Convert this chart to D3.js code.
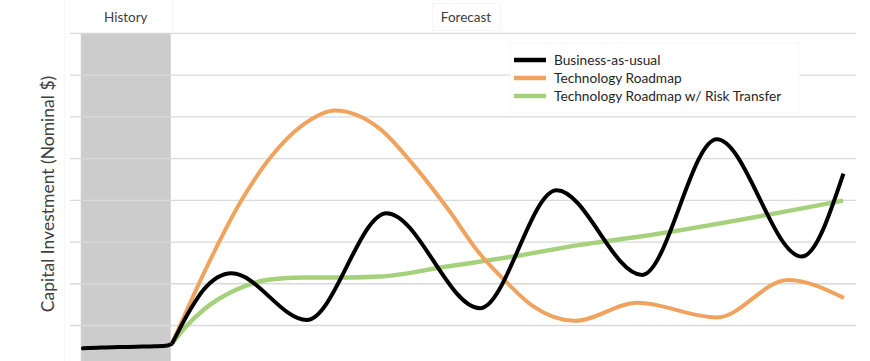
<!DOCTYPE html>
<html>
<head>
<meta charset="utf-8">
<script src="https://cdn.jsdelivr.net/npm/d3@7"></script>
<style>
  html, body { margin: 0; padding: 0; background: #fff; }
  svg { display: block; font-family: Lato, "Open Sans", sans-serif; }
</style>
</head>
<body>
<svg id="chart" width="870" height="361"></svg>
<script>
// Periods are years relative to the start of the forecast (0 = today).
const historyPeriods = [-5.03, -4, -3, -2, -1, -0.25, 0];
const historyValues  = [0.44, 0.46, 0.47, 0.48, 0.49, 0.51, 0.55];

const bauPeriods = [0, 1.02, 1.77, 3.37, 7.61, 12.12, 17.39, 21.72, 26.54, 30.76, 35.56, 37.91];
const bauValues  = [0.55, 1.36, 1.84, 2.24, 1.12, 3.68, 1.40, 4.23, 2.20, 5.45, 2.64, 4.63];

const roadmapPeriods = [0, 1.92, 3.94, 5.53, 7.41, 9.2, 11.74, 13.61, 15.51, 17.39, 18.9, 20.38, 22.75, 26.26, 30.77, 34.78, 37.94];
const roadmapValues  = [0.55, 2.35, 4.00, 5.00, 5.80, 6.14, 5.70, 4.85, 3.82, 2.70, 2.02, 1.45, 1.10, 1.53, 1.18, 2.08, 1.65];

const riskPeriods = [0, 0.83, 1.77, 3.65, 5.53, 7.41, 10.05, 11.74, 15.51, 19.25, 23.04, 26.43, 37.89];
const riskValues  = [0.55, 0.98, 1.36, 1.85, 2.09, 2.14, 2.14, 2.16, 2.40, 2.64, 2.92, 3.12, 3.98];

const gridValues = [1, 2, 3, 4, 5, 6, 7, 8];
const historySpan = [-5.15, -0.07];

const seriesNames = ["Business-as-usual", "Technology Roadmap", "Technology Roadmap w/ Risk Transfer"];
const seriesColors = ["#000000", "#F0A35E", "#A6D17C"];

const svg = d3.select("#chart");
const W = 870, H = 361;
const gridLeft = 70, gridRight = 856;

const x = d3.scaleLinear().domain([0, 38]).range([172, 845]);
const y = d3.scaleLinear().domain([0, 8]).range([366.7, 32.9]);

// faint header cell borders
const faint = svg.append("g").attr("stroke", "#f5f5f5").attr("stroke-width", 1).attr("fill", "none");
faint.append("line").attr("x1", 64.5).attr("x2", 64.5).attr("y1", 0).attr("y2", H);
faint.append("line").attr("x1", 172.5).attr("x2", 172.5).attr("y1", 0).attr("y2", 32);
faint.append("rect").attr("x", 432.5).attr("y", 3.5).attr("width", 68).attr("height", 27);

// shaded history period
svg.append("rect")
  .attr("x", x(historySpan[0]))
  .attr("y", y(8))
  .attr("width", x(historySpan[1]) - x(historySpan[0]))
  .attr("height", H - y(8))
  .attr("fill", "#cccccc");

// horizontal gridlines through the y axis scale
const yAxis = d3.axisLeft(y).tickValues(gridValues)
  .tickSize(-(gridRight - gridLeft)).tickFormat("");
const gAxis = svg.append("g").attr("transform", `translate(${gridLeft},0)`).call(yAxis);
gAxis.select(".domain").remove();
gAxis.selectAll(".tick line").attr("stroke", "#d9d9d9").attr("stroke-width", 1.3);

// headers
svg.append("text").attr("x", (x(historySpan[0]) + x(historySpan[1])) / 2).attr("y", 22)
  .attr("text-anchor", "middle").attr("font-size", 13.5).attr("fill", "#404040").text("History");
svg.append("text").attr("x", 466).attr("y", 22)
  .attr("text-anchor", "middle").attr("font-size", 13.5).attr("fill", "#404040").text("Forecast");

// y axis title
svg.append("text")
  .attr("transform", "translate(54,194) rotate(-90)")
  .attr("text-anchor", "middle").attr("font-size", 17.5).attr("fill", "#404040")
  .text("Capital Investment (Nominal $)");

// lines
const zip = (ps, vs) => ps.map((p, i) => [p, vs[i]]);
const line = d3.line().x(d => x(d[0])).y(d => y(d[1])).curve(d3.curveMonotoneX);

const seriesData = [
  zip(bauPeriods, bauValues),
  zip(roadmapPeriods, roadmapValues),
  zip(riskPeriods, riskValues)
];

svg.append("path").datum(zip(historyPeriods, historyValues))
  .attr("d", line).attr("fill", "none").attr("stroke", "#000")
  .attr("stroke-width", 4).attr("stroke-linecap", "round");

const order = [2, 1, 0];
order.forEach(i => {
  svg.append("path").datum(seriesData[i])
    .attr("d", line).attr("fill", "none")
    .attr("stroke", seriesColors[i])
    .attr("stroke-width", i === 2 ? 4.5 : 4)
    .attr("stroke-linejoin", "round");
});

// legend
const lg = svg.append("g");
lg.append("rect").attr("x", 510).attr("y", 43).attr("width", 289).attr("height", 70)
  .attr("fill", "#fff").attr("stroke", "#f7f7f7");
seriesNames.forEach((name, i) => {
  const yy = 60 + i * 18;
  lg.append("line").attr("x1", 514).attr("x2", 546).attr("y1", yy).attr("y2", yy)
    .attr("stroke", seriesColors[i]).attr("stroke-width", 4.5);
  lg.append("text").attr("x", 554).attr("y", yy).attr("dy", "0.35em")
    .attr("font-size", 13.7).attr("fill", "#262626").text(name);
});
</script>
</body>
</html>
